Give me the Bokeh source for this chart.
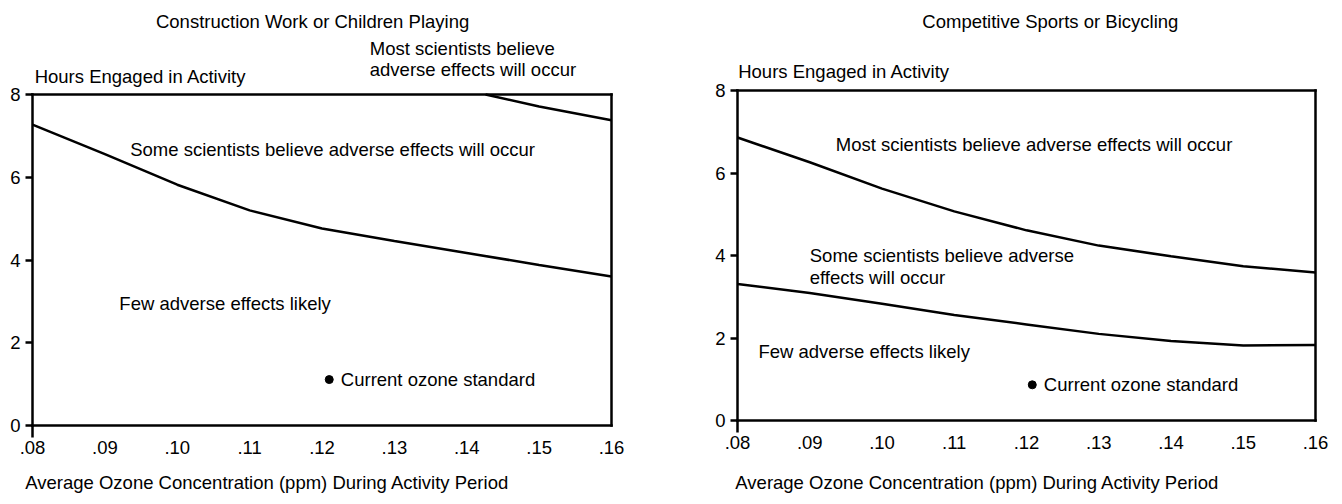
from bokeh.plotting import figure
from bokeh.layouts import row
from bokeh.models import FixedTicker, CustomJSTickFormatter, Label, Range1d, LinearAxis
from bokeh.embed import file_html
from bokeh.resources import INLINE

# ---------------- data ----------------
x_ticks = [0.08, 0.09, 0.10, 0.11, 0.12, 0.13, 0.14, 0.15, 0.16]
x_labels = [".08", ".09", ".10", ".11", ".12", ".13", ".14", ".15", ".16"]
y_ticks = [0, 2, 4, 6, 8]

# Left panel: Construction Work or Children Playing
left_some_x = [0.08, 0.09, 0.10, 0.11, 0.12, 0.13, 0.14, 0.15, 0.16]
left_some_y = [7.27, 6.56, 5.82, 5.20, 4.76, 4.46, 4.17, 3.88, 3.60]
left_most_x = [0.1426, 0.15, 0.16]
left_most_y = [8.0, 7.71, 7.38]
left_std_x = [0.121]
left_std_y = [1.11]

# Right panel: Competitive Sports or Bicycling
right_most_x = [0.08, 0.09, 0.10, 0.11, 0.12, 0.13, 0.14, 0.15, 0.16]
right_most_y = [6.86, 6.26, 5.62, 5.07, 4.61, 4.24, 3.98, 3.74, 3.59]
right_some_x = [0.08, 0.09, 0.10, 0.11, 0.12, 0.13, 0.14, 0.15, 0.16]
right_some_y = [3.31, 3.09, 2.83, 2.56, 2.33, 2.10, 1.93, 1.82, 1.83]
right_std_x = [0.1208]
right_std_y = [0.865]

FONT = "Liberation Sans"
FS = "18.5px"
LW = 2.5
INK = "#000000"
H = 496


def make_fig(width, box, page_x0):
    # box: pixel box of the data area within the page (x0, x1, ytop, ybottom)
    bx0, bx1, byt, byb = box
    sx = (x_ticks[-1] - x_ticks[0]) / (bx1 - bx0)
    sy = (y_ticks[-1] - y_ticks[0]) / (byb - byt)
    xr = Range1d(x_ticks[0] - (bx0 - page_x0) * sx, x_ticks[-1] + (page_x0 + width - bx1) * sx)
    yr = Range1d(y_ticks[0] - (H - byb) * sy, y_ticks[-1] + byt * sy)
    p = figure(width=width, height=H, output_backend="svg", toolbar_location=None,
               x_range=xr, y_range=yr, min_border=0)
    p.grid.visible = False
    p.outline_line_color = None
    p.background_fill_color = "white"
    p.border_fill_color = "white"

    xa = p.xaxis[0]
    xa.fixed_location = y_ticks[0]
    xa.bounds = (x_ticks[0], x_ticks[-1])
    xa.ticker = FixedTicker(ticks=x_ticks, minor_ticks=[x_ticks[0]])
    xa.formatter = CustomJSTickFormatter(args=dict(tv=x_ticks, lab=x_labels), code="""
        for (let i = 0; i < tv.length; i++) {
            if (Math.abs(tv[i] - tick) < 1e-9) return lab[i];
        }
        return "";
    """)
    xa.axis_line_color = INK
    xa.axis_line_width = LW
    xa.axis_line_cap = "square"
    xa.major_tick_line_color = None
    xa.major_tick_out = 12
    xa.major_tick_in = 0
    xa.minor_tick_line_color = INK
    xa.minor_tick_line_width = LW
    xa.minor_tick_out = 12
    xa.minor_tick_in = 0
    xa.major_label_standoff = 3
    xa.major_label_text_font = FONT
    xa.major_label_text_font_size = FS
    xa.major_label_text_color = INK

    ya = p.yaxis[0]
    ya.fixed_location = x_ticks[0]
    ya.bounds = (y_ticks[0], y_ticks[-1])
    ya.ticker = FixedTicker(ticks=y_ticks, minor_ticks=[])
    ya.axis_line_color = INK
    ya.axis_line_width = LW
    ya.axis_line_cap = "square"
    ya.major_tick_line_color = INK
    ya.major_tick_line_width = LW
    ya.major_tick_out = 7
    ya.major_tick_in = 0
    ya.minor_tick_line_color = None
    ya.major_label_standoff = 5
    ya.major_label_text_font = FONT
    ya.major_label_text_font_size = FS
    ya.major_label_text_color = INK

    # top and right edges of the box
    top = LinearAxis(fixed_location=y_ticks[-1], bounds=(x_ticks[0], x_ticks[-1]),
                     ticker=FixedTicker(ticks=[], minor_ticks=[]),
                     axis_line_color=INK, axis_line_width=LW, axis_line_cap="square",
                     major_tick_line_color=None, minor_tick_line_color=None,
                     major_label_text_font_size="0px")
    p.add_layout(top, "above")
    right = LinearAxis(fixed_location=x_ticks[-1], bounds=(y_ticks[0], y_ticks[-1]),
                       ticker=FixedTicker(ticks=[], minor_ticks=[]),
                       axis_line_color=INK, axis_line_width=LW, axis_line_cap="square",
                       major_tick_line_color=None, minor_tick_line_color=None,
                       major_label_text_font_size="0px")
    p.add_layout(right, "right")
    return p


def add_label(p, x, y, text, align="left"):
    p.add_layout(Label(x=x, y=y, text=text, text_font=FONT, text_font_size=FS,
                       text_color=INK, text_align=align, text_baseline="middle"))


# ---------------- left panel ----------------
p1 = make_fig(676, (32, 611, 94, 425), 0)
p1.line(left_some_x, left_some_y, line_color=INK, line_width=LW)
p1.line(left_most_x, left_most_y, line_color=INK, line_width=LW)
p1.scatter(left_std_x, left_std_y, size=8, color=INK)

add_label(p1, 0.1187, 9.76, "Construction Work or Children Playing", "center")
add_label(p1, 0.1266, 9.11, "Most scientists believe")
add_label(p1, 0.1266, 8.60, "adverse effects will occur")
add_label(p1, 0.0803, 8.43, "Hours Engaged in Activity")
add_label(p1, 0.0935, 6.67, "Some scientists believe adverse effects will occur")
add_label(p1, 0.0920, 2.95, "Few adverse effects likely")
add_label(p1, 0.1226, 1.11, "Current ozone standard")
add_label(p1, 0.0790, -1.38, "Average Ozone Concentration (ppm) During Activity Period")

# ---------------- right panel ----------------
p2 = make_fig(658, (737, 1315, 90, 420), 676)
p2.line(right_most_x, right_most_y, line_color=INK, line_width=LW)
p2.line(right_some_x, right_some_y, line_color=INK, line_width=LW)
p2.scatter(right_std_x, right_std_y, size=8, color=INK)

add_label(p2, 0.1233, 9.67, "Competitive Sports or Bicycling", "center")
add_label(p2, 0.0801, 8.47, "Hours Engaged in Activity")
add_label(p2, 0.0936, 6.69, "Most scientists believe adverse effects will occur")
add_label(p2, 0.0900, 4.00, "Some scientists believe adverse")
add_label(p2, 0.0900, 3.47, "effects will occur")
add_label(p2, 0.0829, 1.67, "Few adverse effects likely")
add_label(p2, 0.1224, 0.865, "Current ozone standard")
add_label(p2, 0.0797, -1.50, "Average Ozone Concentration (ppm) During Activity Period")

layout = row(p1, p2)
open("out.html", "w").write(file_html(layout, INLINE))
